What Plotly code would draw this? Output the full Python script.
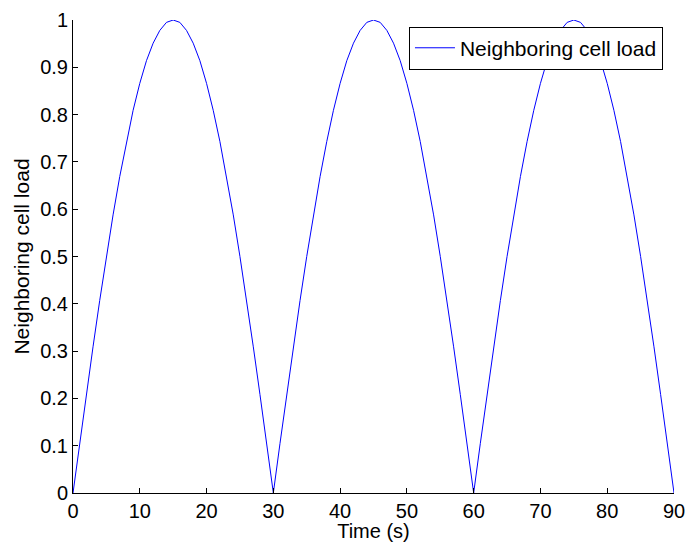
import plotly.graph_objects as go

# Time samples (s) and the read-off neighbouring cell load
time_s = list(range(0, 91))
half_wave = [0.0, 0.105, 0.208, 0.309, 0.407, 0.5, 0.588, 0.669, 0.743, 0.809,
             0.866, 0.914, 0.951, 0.978, 0.995, 1.0, 0.995, 0.978, 0.951, 0.914,
             0.866, 0.809, 0.743, 0.669, 0.588, 0.5, 0.407, 0.309, 0.208, 0.105]
load = half_wave + half_wave + half_wave + [0.0]

x_ticks = [0, 10, 20, 30, 40, 50, 60, 70, 80, 90]
y_ticks = [0, 0.1, 0.2, 0.3, 0.4, 0.5, 0.6, 0.7, 0.8, 0.9, 1]
y_tick_text = ["0", "0.1", "0.2", "0.3", "0.4", "0.5", "0.6", "0.7", "0.8", "0.9", "1"]

fig = go.Figure()
fig.add_trace(go.Scatter(x=time_s, y=load, mode="lines",
                         line=dict(color="#0000ff", width=1),
                         name="Neighboring cell load"))

font_family = "Liberation Sans, Arial, Helvetica, sans-serif"
fig.update_layout(
    width=687, height=542,
    margin=dict(l=73, r=13, t=20, b=49, autoexpand=False),
    paper_bgcolor="white", plot_bgcolor="white",
    font=dict(family=font_family, size=20, color="black"),
    showlegend=True,
    legend=dict(x=0.559, y=0.986, xanchor="left", yanchor="top",
                bgcolor="white", bordercolor="black", borderwidth=1,
                font=dict(size=21), tracegroupgap=0,
                itemwidth=40),
    xaxis=dict(range=[0, 90], tickvals=x_ticks, ticks="inside", ticklen=5,
               tickcolor="black", showline=True, linecolor="black", linewidth=1,
               showgrid=False, zeroline=False, mirror=False, automargin=False,
               tickfont=dict(size=20),
               title=dict(text="Time (s)", standoff=0, font=dict(size=20))),
    yaxis=dict(range=[0, 1], tickvals=y_ticks, ticktext=y_tick_text,
               ticks="inside", ticklen=5,
               tickcolor="black", showline=True, linecolor="black", linewidth=1,
               showgrid=False, zeroline=False, mirror=False, automargin=False,
               tickfont=dict(size=20),
               title=dict(text="Neighboring cell load", standoff=4, font=dict(size=21))),
)

fig.write_html("out.html")
